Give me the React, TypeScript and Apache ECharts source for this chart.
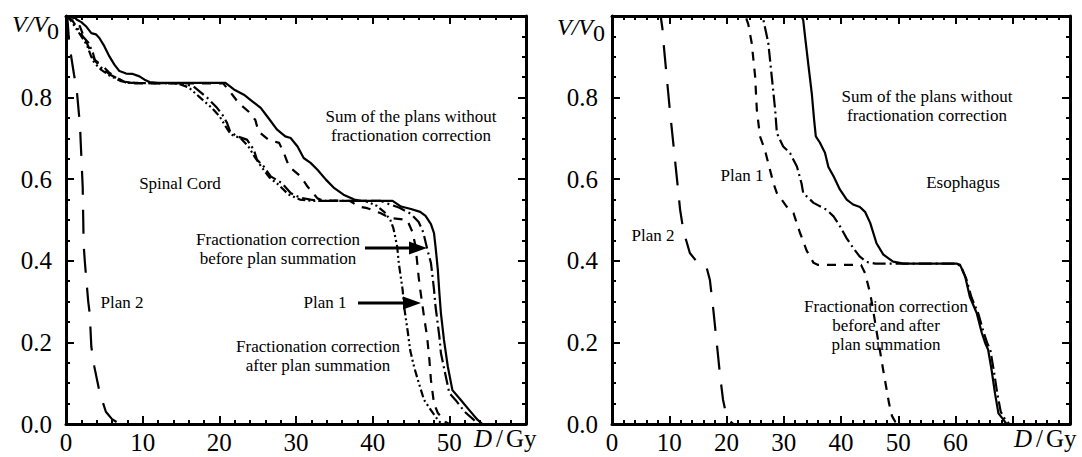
import React, { useEffect, useRef } from "react";
import * as echarts from "echarts";

const FONT = "Liberation Serif";

// ---------- Data: Spinal Cord (left panel) ----------
const spinalPlan2: number[][] = [
  [0, 1], [0.2, 0.99], [0.43, 0.93], [1.05, 0.856], [1.4, 0.82], [1.83, 0.73], [1.92, 0.69],
  [2.18, 0.58], [2.25, 0.5], [2.3, 0.44], [2.45, 0.4], [2.6, 0.365], [2.9, 0.3], [3.1, 0.27],
  [3.3, 0.19], [3.7, 0.14], [4.4, 0.076], [5.2, 0.03], [6.0, 0.012], [7.0, 0],
];
const spinalSum: number[][] = [
  [0, 1], [0.9, 1.0], [1.5, 0.99], [2.0, 0.985], [2.6, 0.975], [3.3, 0.958], [3.9, 0.955],
  [4.35, 0.946], [5.0, 0.926], [5.66, 0.901], [6.31, 0.881], [6.97, 0.865], [7.84, 0.859],
  [8.72, 0.858], [9.58, 0.852], [10.24, 0.844], [10.9, 0.838], [12, 0.836], [20.8, 0.836],
  [21.9, 0.82], [23.2, 0.807], [24.3, 0.791], [25.4, 0.775], [26.4, 0.75], [27.5, 0.722],
  [28.6, 0.705], [29.3, 0.701], [30.2, 0.68], [31.0, 0.652], [31.9, 0.64], [32.8, 0.623],
  [33.9, 0.599], [35.0, 0.578], [36.2, 0.562], [37.6, 0.55], [38.5, 0.547], [42.6, 0.547],
  [43.7, 0.533], [45.0, 0.527], [46.2, 0.52], [46.9, 0.51], [47.6, 0.49], [48.0, 0.468],
  [48.2, 0.435], [48.5, 0.378], [48.7, 0.321], [48.9, 0.272], [49.3, 0.206], [49.8, 0.141],
  [50.4, 0.083], [51.5, 0.059], [52.6, 0.034], [53.7, 0.01], [54.3, 0],
];
const spinalBefore: number[][] = [
  [0, 1], [0.8, 0.99], [1.5, 0.97], [2.2, 0.95], [2.9, 0.935], [3.5, 0.91], [3.8, 0.89],
  [4.8, 0.87], [5.75, 0.856], [7.45, 0.84], [8.5, 0.836], [15, 0.835], [16.6, 0.828],
  [18.4, 0.8], [19.7, 0.775], [20.4, 0.758], [21.0, 0.738], [21.4, 0.717], [22.3, 0.705],
  [23.6, 0.697], [24.5, 0.672], [24.9, 0.648], [25.8, 0.631], [26.7, 0.607], [28.2, 0.59],
  [29.3, 0.566], [30.5, 0.555], [31.9, 0.55], [33, 0.547], [41, 0.547], [42, 0.54],
  [43.5, 0.53], [45, 0.515], [46, 0.495], [46.6, 0.47], [47.1, 0.43], [47.6, 0.395],
  [48.0, 0.33], [48.2, 0.288], [48.7, 0.214], [48.9, 0.174], [49.5, 0.12], [50.0, 0.076],
  [50.8, 0.059], [52.0, 0.03], [53.2, 0.01], [53.6, 0],
];
const spinalAfter: number[][] = [
  [0, 1], [0.6, 0.99], [1.3, 0.97], [2.0, 0.95], [2.7, 0.93], [3.3, 0.9], [3.7, 0.885],
  [4.6, 0.868], [5.6, 0.855], [7.2, 0.84], [8.3, 0.836], [14.5, 0.835], [16, 0.825],
  [17.5, 0.8], [19, 0.775], [20, 0.755], [20.8, 0.73], [21.5, 0.71], [22.8, 0.7],
  [23.8, 0.68], [24.6, 0.655], [25.5, 0.63], [26.5, 0.605], [27.8, 0.585], [29, 0.563],
  [30.5, 0.55], [32, 0.547], [39, 0.547], [40.5, 0.535], [41.5, 0.52], [42.3, 0.5],
  [42.7, 0.48], [43.2, 0.435], [43.4, 0.395], [43.9, 0.33], [44.1, 0.288], [44.6, 0.223],
  [44.9, 0.18], [45.4, 0.14], [45.9, 0.108], [46.7, 0.059], [47.6, 0.034], [48.5, 0.01], [49, 0],
];
const spinalPlan1: number[][] = [
  [0, 1], [1.0, 0.995], [1.8, 0.975], [2.4, 0.946], [3.0, 0.922], [3.7, 0.893], [4.8, 0.877],
  [5.6, 0.862], [6.5, 0.85], [7.8, 0.837], [9, 0.835], [20.5, 0.835], [21.7, 0.807],
  [22.5, 0.787], [23.8, 0.766], [24.7, 0.745], [25.1, 0.717], [26.4, 0.697], [27.8, 0.689],
  [28.4, 0.665], [29.1, 0.631], [30.6, 0.607], [31.5, 0.582], [32.8, 0.553], [33.5, 0.548],
  [37, 0.547], [38.2, 0.533], [39.3, 0.529], [41, 0.517], [42.3, 0.505], [44.5, 0.5],
  [45.2, 0.47], [45.6, 0.435], [46.0, 0.36], [46.2, 0.33], [46.7, 0.263], [47.1, 0.214],
  [47.4, 0.157], [47.6, 0.108], [48.0, 0.05], [48.5, 0.027], [49.5, 0.005], [50, 0],
];

// ---------- Data: Esophagus (right panel) ----------
const esoPlan2: number[][] = [
  [0, 1], [8.5, 1.0], [8.8, 0.97], [9.0, 0.934], [9.55, 0.852], [10.1, 0.77], [10.7, 0.689],
  [11.3, 0.607], [11.9, 0.525], [12.4, 0.48], [12.75, 0.46], [13.6, 0.419], [14.8, 0.398],
  [15.9, 0.394], [16.5, 0.385], [17.1, 0.353], [17.7, 0.28], [18.3, 0.198], [18.9, 0.116],
  [19.4, 0.059], [20.0, 0.02], [20.5, 0.008], [21.2, 0],
];
const esoPlan1: number[][] = [
  [0, 1], [23.3, 1.0], [23.8, 0.98], [24.4, 0.934], [25.0, 0.852], [25.3, 0.77], [25.85, 0.705],
  [26.7, 0.672], [28.2, 0.59], [28.8, 0.566], [30.5, 0.533], [31.7, 0.517], [32.8, 0.47],
  [34.0, 0.425], [35.2, 0.395], [36, 0.39], [43.5, 0.39], [44.2, 0.37], [45.1, 0.32],
  [45.6, 0.28], [46.3, 0.22], [46.8, 0.18], [47.4, 0.13], [47.9, 0.09], [48.4, 0.05],
  [48.9, 0.02], [49.5, 0.005], [50, 0],
];
const esoCorrected: number[][] = [
  [0, 1], [26.3, 1.0], [27.3, 0.934], [27.9, 0.852], [28.5, 0.77], [28.8, 0.713], [29.9, 0.68],
  [31.1, 0.664], [32.3, 0.631], [33.1, 0.59], [33.4, 0.566], [35.2, 0.542], [37.5, 0.525],
  [38.7, 0.509], [39.8, 0.485], [41.0, 0.455], [42.2, 0.43], [43.3, 0.41], [44.5, 0.397],
  [46, 0.393], [60.3, 0.393], [61.0, 0.385], [61.9, 0.355], [62.8, 0.31], [64.0, 0.27],
  [64.9, 0.225], [65.5, 0.2], [66.1, 0.18], [66.7, 0.13], [67.3, 0.075], [67.9, 0.03],
  [68.7, 0.01], [69.4, 0],
];
const esoSum: number[][] = [
  [0, 1], [33.1, 1.0], [33.4, 0.99], [33.8, 0.94], [34.3, 0.88], [34.9, 0.81], [35.3, 0.746],
  [35.6, 0.705], [36.3, 0.69], [37.2, 0.665], [37.8, 0.63], [38.7, 0.607], [39.8, 0.575],
  [41.0, 0.55], [42.1, 0.538], [43.3, 0.532], [44.2, 0.52], [45.1, 0.493], [46.2, 0.443],
  [47.4, 0.415], [49.1, 0.398], [50.9, 0.393], [60.2, 0.393], [60.8, 0.39], [61.7, 0.361],
  [62.5, 0.312], [63.7, 0.272], [64.6, 0.223], [65.2, 0.198], [65.7, 0.182], [66.3, 0.133],
  [66.9, 0.075], [67.5, 0.026], [68.4, 0.01], [68.9, 0],
];

// ---------- Axis ticks ----------
const leftXMax = 60;
const rightXMax = 80;
const leftXLastLabel = 50;
const rightXLastLabel = 60;
const yMax = 1.0;

// ---------- Line styles ----------
const SOLID = "solid";
const LONG_DASH = [24, 15];
const SHORT_DASH = [9, 8];
const DASH_DOT = [13, 4, 2, 4];
const DASH_DOT_DOT = [8, 3, 2, 3, 2, 3];

export default function App() {
  const ref = useRef<HTMLDivElement>(null);

  useEffect(() => {
    if (!ref.current) return;
    const chart = echarts.init(ref.current, undefined, { renderer: "svg" });

    const black = "#000";
    const tickFont = 25;
    const noteFont = 17;

    const xAxisPair = (gridIndex: number, max: number, lastLabel: number) => {
      const base = {
        type: "value",
        gridIndex,
        min: 0,
        max,
        interval: 10,
        axisLine: { show: true, onZero: false, lineStyle: { color: black, width: 3 } },
        axisTick: { show: true, inside: true, length: 8, lineStyle: { color: black, width: 2 } },
        minorTick: { show: true, splitNumber: 5, length: 4, lineStyle: { color: black, width: 2 } },
        splitLine: { show: false },
        minorSplitLine: { show: false },
      };
      return [
        {
          ...base,
          position: "bottom",
          axisLabel: {
            show: true,
            margin: 6,
            color: black,
            fontFamily: FONT,
            fontSize: tickFont,
            formatter: (v: number) => (v > lastLabel ? "" : String(v)),
          },
        },
        { ...base, position: "top", axisLabel: { show: false } },
      ];
    };

    const yAxisPair = (gridIndex: number) => {
      const base = {
        type: "value",
        gridIndex,
        min: 0,
        max: yMax,
        interval: 0.2,
        axisLine: { show: true, onZero: false, lineStyle: { color: black, width: 3 } },
        axisTick: { show: true, inside: true, length: 8, lineStyle: { color: black, width: 2 } },
        minorTick: { show: true, splitNumber: 4, length: 4, lineStyle: { color: black, width: 2 } },
        splitLine: { show: false },
        minorSplitLine: { show: false },
      };
      return [
        {
          ...base,
          position: "left",
          axisLabel: {
            show: true,
            margin: 14,
            color: black,
            fontFamily: FONT,
            fontSize: tickFont,
            formatter: (v: number) => (v >= yMax - 1e-9 ? "" : v.toFixed(1)),
          },
        },
        { ...base, position: "right", axisLabel: { show: false } },
      ];
    };

    const line = (data: number[][], type: any, panel: number, z = 2) => ({
      type: "line",
      xAxisIndex: panel * 2,
      yAxisIndex: panel * 2,
      data,
      showSymbol: false,
      symbol: "none",
      silent: true,
      z,
      lineStyle: { color: black, width: 2.2, type, cap: "butt", join: "round" },
    });

    const txt = (text: string, x: number, y: number, opts: any = {}) => ({
      type: "text",
      x,
      y,
      silent: true,
      z: 100,
      style: {
        text,
        fill: black,
        fontFamily: FONT,
        fontSize: opts.fontSize ?? noteFont,
        fontStyle: opts.fontStyle ?? "normal",
        lineHeight: opts.lineHeight ?? 19,
        align: opts.align ?? "center",
        textAlign: opts.align ?? "center",
        verticalAlign: "middle",
        textVerticalAlign: "middle",
      },
    });

    const arrow = (x1: number, x2: number, y: number) => [
      { type: "line", silent: true, z: 100, shape: { x1, y1: y, x2: x2 - 12, y2: y }, style: { stroke: black, lineWidth: 3 } },
      {
        type: "polygon",
        silent: true,
        z: 100,
        shape: { points: [[x2, y], [x2 - 18, y - 6.5], [x2 - 18, y + 6.5]] },
        style: { fill: black },
      },
    ];

    const graphic: any[] = [
      // axis titles
      txt("V/V", 12, 24, { fontSize: 24, fontStyle: "italic", align: "left" }),
      txt("0", 47, 31, { fontSize: 24, align: "left" }),
      txt("V/V", 557, 27, { fontSize: 24, fontStyle: "italic", align: "left" }),
      txt("0", 593, 33, { fontSize: 24, align: "left" }),
      txt("D", 474, 438, { fontSize: tickFont, fontStyle: "italic", align: "left" }),
      txt("/", 496, 438, { fontSize: tickFont, align: "left" }),
      txt("Gy", 506, 438, { fontSize: tickFont, align: "left" }),
      txt("D", 1014, 438, { fontSize: tickFont, fontStyle: "italic", align: "left" }),
      txt("/", 1036, 438, { fontSize: tickFont, align: "left" }),
      txt("Gy", 1046, 438, { fontSize: tickFont, align: "left" }),
      // left annotations
      txt("Sum of the plans without\nfractionation correction", 411, 126),
      txt("Spinal Cord", 180, 183),
      txt("Fractionation correction\nbefore plan summation", 278, 249),
      txt("Plan 1", 325, 302),
      txt("Fractionation correction\nafter plan summation", 318, 356),
      txt("Plan 2", 122, 302),
      ...arrow(365, 427, 248),
      ...arrow(358, 421, 303),
      // right annotations
      txt("Sum of the plans without\nfractionation correction", 927, 106),
      txt("Esophagus", 963, 182),
      txt("Plan 1", 742, 175),
      txt("Plan 2", 653, 235),
      txt("Fractionation correction\nbefore and after\nplan summation", 886, 325),
    ];

    chart.setOption({
      animation: false,
      backgroundColor: "#fff",
      textStyle: { fontFamily: FONT },
      grid: [
        { left: 66, top: 16, width: 460, height: 408, containLabel: false },
        { left: 612, top: 16, width: 458, height: 408, containLabel: false },
      ],
      xAxis: [...xAxisPair(0, leftXMax, leftXLastLabel), ...xAxisPair(1, rightXMax, rightXLastLabel)],
      yAxis: [...yAxisPair(0), ...yAxisPair(1)],
      series: [
        line(spinalPlan2, LONG_DASH, 0),
        line(spinalAfter, DASH_DOT_DOT, 0),
        line(spinalPlan1, SHORT_DASH, 0),
        line(spinalBefore, DASH_DOT, 0),
        line(spinalSum, SOLID, 0, 3),
        line(esoPlan2, LONG_DASH, 1),
        line(esoPlan1, SHORT_DASH, 1),
        line(esoCorrected, DASH_DOT, 1),
        line(esoSum, SOLID, 1, 3),
      ],
      graphic,
    });

    return () => chart.dispose();
  }, []);

  return (
    <div
      ref={ref}
      style={{ position: "fixed", left: 0, top: 0, width: 1082, height: 457, background: "#fff" }}
    />
  );
}
